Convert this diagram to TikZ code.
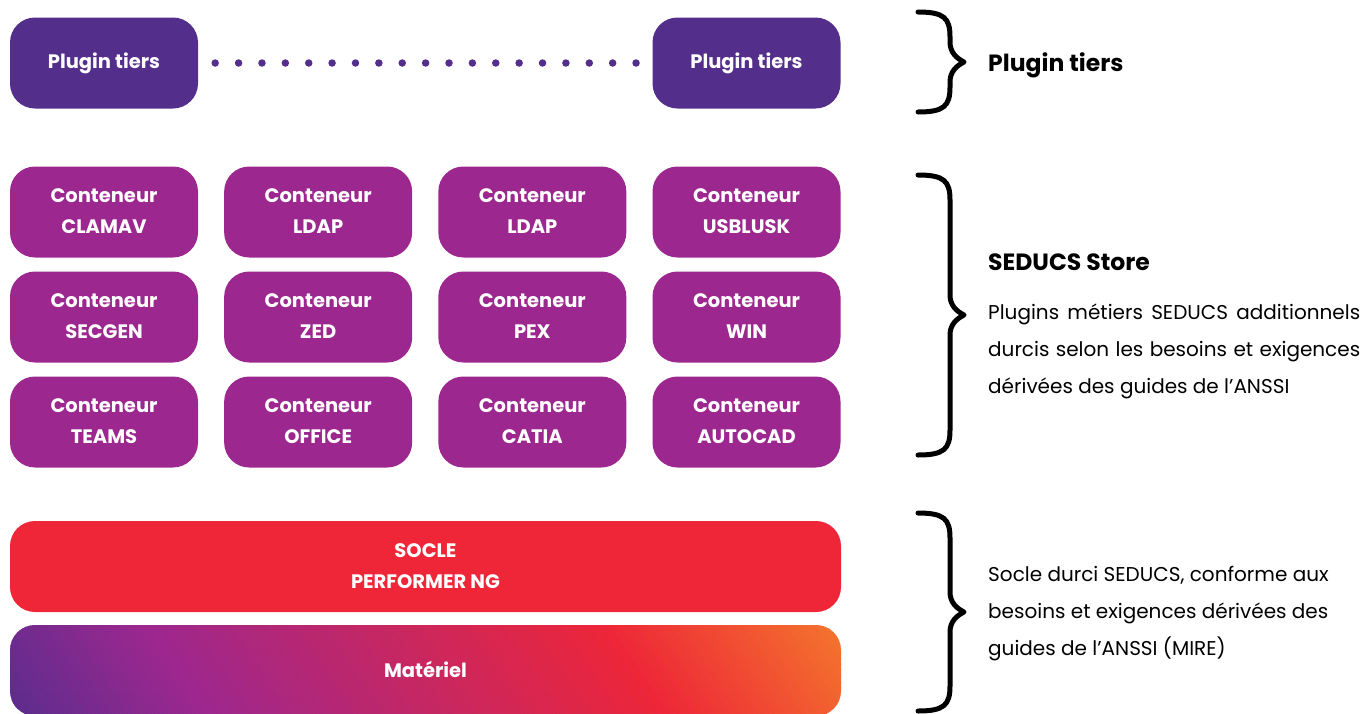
\documentclass[tikz,border=0pt]{standalone}
\usepackage{fontspec}
\setmainfont{Poppins}
\usetikzlibrary{positioning}
\definecolor{tierpurple}{RGB}{83,46,139}
\definecolor{storemagenta}{RGB}{156,39,143}
\definecolor{soclered}{RGB}{238,38,56}
\definecolor{hworange}{RGB}{244,122,44}
\definecolor{hwpurple}{RGB}{90,45,141}
\tikzset{
	block/.style={rounded corners=25pt, minimum width=188pt, minimum height=91pt, inner sep=0pt,
		align=center, text=white, font=\bfseries\fontsize{19.5}{31}\selectfont},
	tier/.style={block, fill=tierpurple},
	cont/.style={block, fill=storemagenta},
	bracket/.style={line width=5pt, line cap=round, line join=round},
	dotline/.style={draw=tierpurple, line width=7.5pt, line cap=round, dash pattern=on 0pt off 23.38pt},
	legend/.style={inner sep=0pt, font=\bfseries\fontsize{23.5}{28}\selectfont},
	para/.style={inner sep=0pt, font=\fontsize{20}{37}\selectfont}
}

\begin{document}
\begin{tikzpicture}[x=1pt,y=-1pt]
	\useasboundingbox (0,0) rectangle (1365,713);

	% plugins tiers
	\node[tier] (p1) at (104,63) {Plugin tiers};
	\node[tier] (p2) at (746.5,63) {Plugin tiers};
	\draw[dotline, shorten <=17pt, shorten >=16pt] (p1) -- (p2);

	% store
	\foreach \name [count=\i from 0] in {CLAMAV,LDAP,LDAP,USBLUSK,SECGEN,ZED,PEX,WIN,TEAMS,OFFICE,CATIA,AUTOCAD} {
		\pgfmathsetmacro\cx{104+214.17*mod(\i,4)}
		\pgfmathsetmacro\cy{212+105*int(\i/4)}
		\node[cont] (c\i) at (\cx,\cy) {\strut Conteneur\\\strut\name};
	}

	% socle
	\node[block, fill=soclered, minimum width=831pt] (socle) at (425.5,566.5) {SOCLE\\PERFORMER NG};

	% materiel
	\begin{scope}
		\clip[rounded corners=25pt] (10,625) rectangle (841,716);
		\foreach \u in {6,10,...,200} {
			\pgfmathtruncatemacro\p{(\u-6)/1.94}
			\fill[storemagenta!\p!hwpurple] (\u,716) -- (\u+4.6,716) -- (\u-57.4,625) -- (\u-62,625) -- cycle;
		}
		\foreach \u in {200,204,...,664} {
			\pgfmathtruncatemacro\p{(\u-200)/4.64}
			\fill[soclered!\p!storemagenta] (\u,716) -- (\u+4.6,716) -- (\u-57.4,625) -- (\u-62,625) -- cycle;
		}
		\foreach \u in {664,668,...,912} {
			\pgfmathtruncatemacro\p{(\u-664)/2.48}
			\fill[hworange!\p!soclered] (\u,716) -- (\u+4.6,716) -- (\u-57.4,625) -- (\u-62,625) -- cycle;
		}
	\end{scope}
	\node[block, minimum width=831pt, minimum height=90pt] (hw) at (425.5,669.5) {Matériel};

	% braces
	\foreach \t/\b in {12/112,175/455,513/711} {
		\pgfmathsetmacro\m{(\t+\b)/2}
		\draw[bracket] (918,\t) .. controls (944,\t) and (950,\t+6) .. (950,\t+25) -- (950,\m-20)
			.. controls (950,\m-10) and (956,\m-4) .. (964,\m) .. controls (956,\m+4) and (950,\m+10) .. (950,\m+20)
			-- (950,\b-25) .. controls (950,\b-6) and (944,\b) .. (918,\b);
	}

	% legends
	\node[legend, anchor=base west] (l1) at (988,71) {Plugin tiers};
	\node[legend, anchor=base west] (l2) at (988,270) {SEDUCS Store};
	\node[para, anchor=west, text width=372pt, align=justify] (d2) at (988,351) {Plugins métiers SEDUCS additionnels\linebreak durcis selon les besoins et exigences\linebreak dérivées des guides de l’ANSSI};
	\node[para, anchor=west, align=left] (d3) at (988,614) {Socle durci SEDUCS, conforme aux\\besoins et exigences dérivées des\\guides de l’ANSSI (MIRE)};
\end{tikzpicture}
\end{document}
